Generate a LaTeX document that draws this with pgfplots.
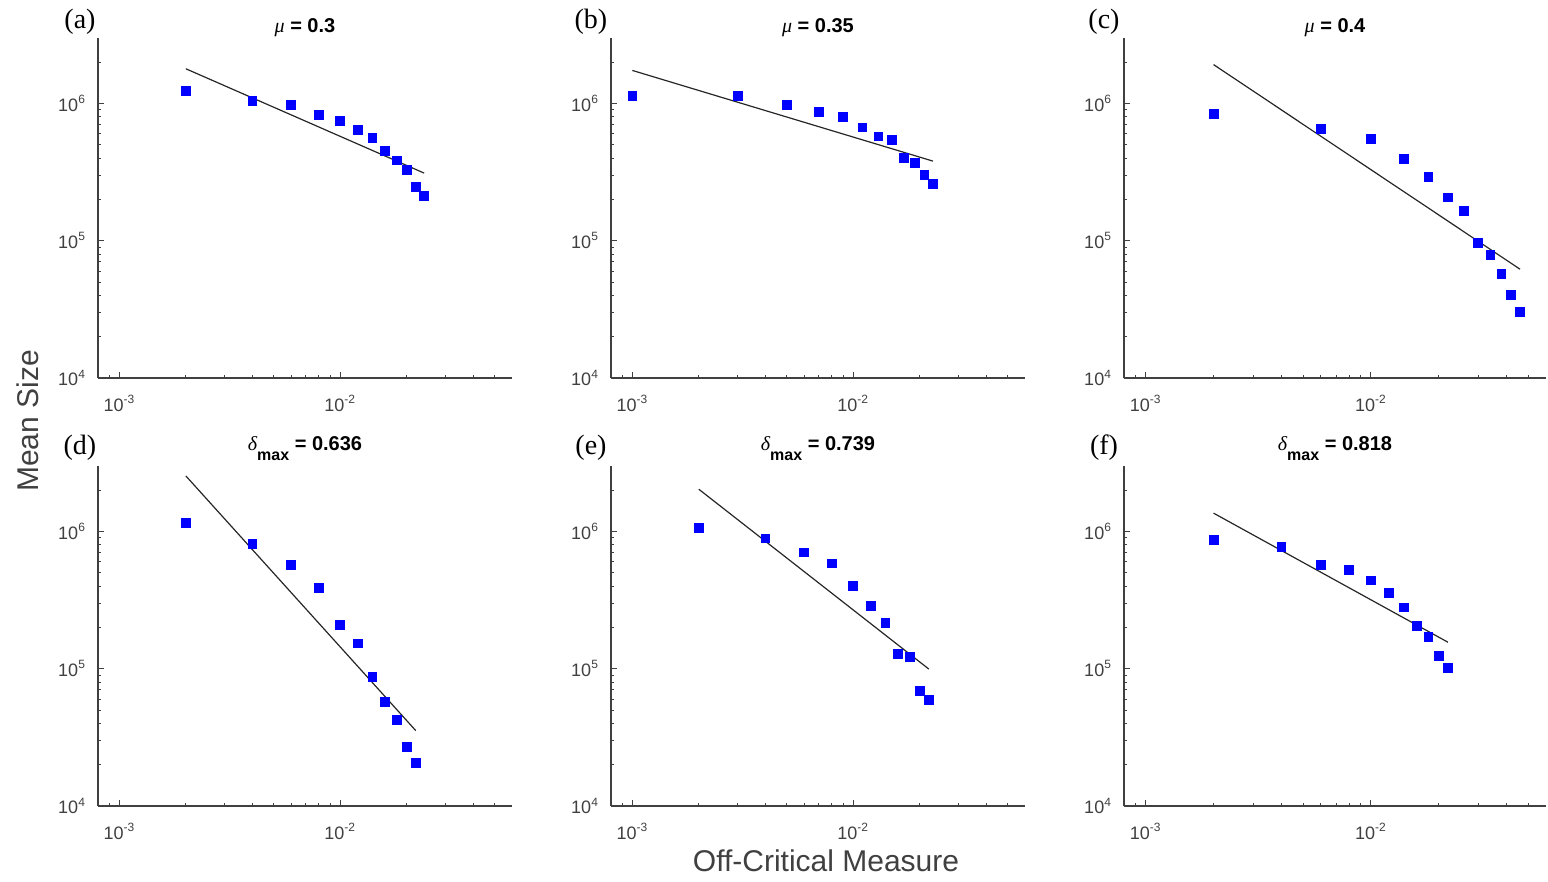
\documentclass[border=0pt]{standalone}
\usepackage{fontspec}
\setmainfont{Liberation Sans}
\newfontfamily\lserif{Liberation Serif}
\usepackage{pgfplots}
\pgfplotsset{compat=1.18}
\usepgfplotslibrary{groupplots}

\definecolor{mblue}{RGB}{0,0,255}
\definecolor{axgray}{RGB}{64,64,64}

\newcommand{\mutitle}[1]{{\lserif\itshape\mdseries μ} = #1}
\newcommand{\dtitle}[1]{{\lserif\itshape\mdseries δ}\raisebox{-5pt}{\fontsize{8}{8}\selectfont\bfseries max} = #1}

\begin{document}
\begin{tikzpicture}
\path[use as bounding box] (0,0) rectangle (774pt,441pt);
\begin{scope}[shift={(49pt,252pt)}]
\begin{groupplot}[
    group style={group size=3 by 2, horizontal sep=49.5pt, vertical sep=44pt},
    anchor=south west,
    xmode=log, ymode=log,
    scale only axis,
    width=207pt, height=170pt,
    xmin=8e-4, xmax=6e-2,
    ymin=1e4, ymax=3e6,
    axis x line=bottom, axis y line=left,
    axis line style={-, axgray, line width=0.6pt},
    tick align=inside,
    tick style={axgray, line width=0.5pt},
    major tick length=3pt, minor tick length=1.6pt,
    xtick={1e-3,1e-2},
    xticklabels={10\textsuperscript{-3},10\textsuperscript{-2}},
    minor xtick={9e-4,2e-3,3e-3,4e-3,5e-3,6e-3,7e-3,8e-3,9e-3,2e-2,3e-2,4e-2,5e-2},
    ytick={1e4,1e5,1e6},
    yticklabels={10\textsuperscript{4},10\textsuperscript{5},10\textsuperscript{6}},
    minor ytick={2e4,3e4,4e4,5e4,6e4,7e4,8e4,9e4,2e5,3e5,4e5,5e5,6e5,7e5,8e5,9e5,2e6},
    ticklabel style={font=\fontsize{9}{10}\selectfont, text=axgray},
    xticklabel style={yshift=-5pt},
    yticklabel style={xshift=-2.5pt},
    every axis title shift=0pt,
    title style={font=\bfseries\fontsize{10}{11}\selectfont, anchor=base, yshift=2.5pt},
    clip=false,
]
% (a)
\nextgroupplot[title={\mutitle{0.3}}]
\addplot[only marks, mark=square*, mark size=2.2pt, mark options={fill=mblue, draw=mblue}] coordinates {(0.002,1.24e6)(0.004,1.05e6)(0.006,9.8e5)(0.008,8.2e5)(0.010,7.5e5)(0.012,6.4e5)(0.014,5.6e5)(0.016,4.5e5)(0.018,3.85e5)(0.020,3.3e5)(0.022,2.46e5)(0.024,2.11e5)};
\addplot[no marks, black!85, line width=0.6pt] coordinates {(0.002,1.79e6)(0.024,3.11e5)};
\node[font=\lserif\fontsize{14}{14}\selectfont, xshift=-9pt, yshift=8pt] at (rel axis cs:0,1) {(a)};

% (b)
\nextgroupplot[title={\mutitle{0.35}}]
\addplot[only marks, mark=square*, mark size=2.2pt, mark options={fill=mblue, draw=mblue}] coordinates {(0.001,1.13e6)(0.003,1.13e6)(0.005,9.7e5)(0.007,8.65e5)(0.009,8.0e5)(0.011,6.7e5)(0.013,5.75e5)(0.015,5.4e5)(0.017,4.0e5)(0.019,3.7e5)(0.021,3.03e5)(0.023,2.58e5)};
\addplot[no marks, black!85, line width=0.6pt] coordinates {(0.001,1.74e6)(0.023,3.8e5)};
\node[font=\lserif\fontsize{14}{14}\selectfont, xshift=-10pt, yshift=8pt] at (rel axis cs:0,1) {(b)};

% (c)
\nextgroupplot[title={\mutitle{0.4}}, width=211pt]
\addplot[only marks, mark=square*, mark size=2.2pt, mark options={fill=mblue, draw=mblue}] coordinates {(0.002,8.4e5)(0.006,6.55e5)(0.010,5.5e5)(0.014,3.97e5)(0.018,2.9e5)(0.022,2.07e5)(0.026,1.65e5)(0.030,9.7e4)(0.034,7.9e4)(0.038,5.7e4)(0.042,4.05e4)(0.046,3.05e4)};
\addplot[no marks, black!85, line width=0.6pt] coordinates {(0.002,1.92e6)(0.046,6.2e4)};
\node[font=\lserif\fontsize{14}{14}\selectfont, xshift=-10pt, yshift=8pt] at (rel axis cs:0,1) {(c)};

% (d)
\nextgroupplot[title={\dtitle{0.636}}, title style={yshift=5pt}]
\addplot[only marks, mark=square*, mark size=2.2pt, mark options={fill=mblue, draw=mblue}] coordinates {(0.002,1.16e6)(0.004,8.1e5)(0.006,5.7e5)(0.008,3.9e5)(0.010,2.08e5)(0.012,1.53e5)(0.014,8.7e4)(0.016,5.75e4)(0.018,4.25e4)(0.020,2.68e4)(0.022,2.07e4)};
\addplot[no marks, black!85, line width=0.6pt] coordinates {(0.002,2.54e6)(0.022,3.54e4)};
\node[font=\lserif\fontsize{14}{14}\selectfont, xshift=-9pt, yshift=9pt] at (rel axis cs:0,1) {(d)};

% (e)
\nextgroupplot[title={\dtitle{0.739}}, title style={yshift=5pt}]
\addplot[only marks, mark=square*, mark size=2.2pt, mark options={fill=mblue, draw=mblue}] coordinates {(0.002,1.06e6)(0.004,8.9e5)(0.006,7.05e5)(0.008,5.85e5)(0.010,4.0e5)(0.012,2.87e5)(0.014,2.15e5)(0.016,1.29e5)(0.018,1.22e5)(0.020,6.85e4)(0.022,5.9e4)};
\addplot[no marks, black!85, line width=0.6pt] coordinates {(0.002,2.03e6)(0.022,9.95e4)};
\node[font=\lserif\fontsize{14}{14}\selectfont, xshift=-10pt, yshift=9pt] at (rel axis cs:0,1) {(e)};

% (f)
\nextgroupplot[title={\dtitle{0.818}}, title style={yshift=5pt}, width=211pt]
\addplot[only marks, mark=square*, mark size=2.2pt, mark options={fill=mblue, draw=mblue}] coordinates {(0.002,8.7e5)(0.004,7.75e5)(0.006,5.7e5)(0.008,5.25e5)(0.010,4.4e5)(0.012,3.55e5)(0.014,2.8e5)(0.016,2.05e5)(0.018,1.71e5)(0.020,1.24e5)(0.022,1.02e5)};
\addplot[no marks, black!85, line width=0.6pt] coordinates {(0.002,1.36e6)(0.022,1.56e5)};
\node[font=\lserif\fontsize{14}{14}\selectfont, xshift=-10pt, yshift=9pt] at (rel axis cs:0,1) {(f)};
\end{groupplot}
\end{scope}

\node[rotate=90, font=\fontsize{15}{16}\selectfont, text=axgray] at (14pt,230.5pt) {Mean Size};
\node[font=\fontsize{15}{16}\selectfont, text=axgray] at (413pt,10.5pt) {Off-Critical Measure};
\end{tikzpicture}
\end{document}
